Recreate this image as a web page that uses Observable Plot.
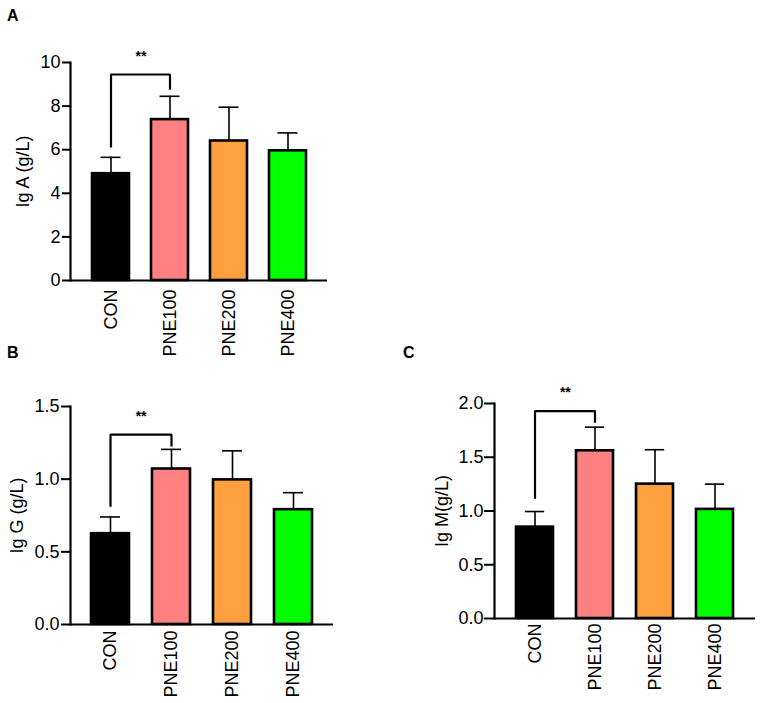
<!DOCTYPE html>
<html>
<head>
<meta charset="utf-8">
<script src="https://cdn.jsdelivr.net/npm/d3@7"></script>
<script src="https://cdn.jsdelivr.net/npm/@observablehq/plot@0.6"></script>
<style>
  body { margin: 0; background: #fff; }
  #wrap { position: relative; width: 765px; height: 703px; overflow: hidden; font-family: "Liberation Sans", Arial, sans-serif; }
  .panel { position: absolute; }
  .letter { position: absolute; font-weight: bold; font-size: 16px; line-height: 1; }
</style>
</head>
<body>
<div id="wrap">
  <div class="letter" style="left:7px;top:8px">A</div>
  <div class="letter" style="left:7px;top:345px">B</div>
  <div class="letter" style="left:403px;top:345px">C</div>
</div>
<script>
// ---- data ----
const categories = ["CON", "PNE100", "PNE200", "PNE400"];
const colors = ["#000000", "#FF8080", "#FFA040", "#00FF00"];

const igaMean = [4.9, 7.38, 6.4, 5.95];
const igaErr  = [0.75, 1.07, 1.55, 0.82];
const iggMean = [0.625, 1.07, 0.995, 0.79];
const iggErr  = [0.115, 0.135, 0.2, 0.117];
const igmMean = [0.85, 1.56, 1.25, 1.015];
const igmErr  = [0.145, 0.22, 0.32, 0.235];

const igaTicks = [0, 2, 4, 6, 8, 10];
const iggTicks = [0, 0.5, 1.0, 1.5];
const igmTicks = [0, 0.5, 1.0, 1.5, 2.0];

// significance bracket: [left leg bottom, top, right leg bottom], star level
const igaBracket = [6.1, 9.45, 8.75], igaStar = 10.27;
const iggBracket = [0.81, 1.307, 1.225], iggStar = 1.43;
const igmBracket = [1.113, 1.93, 1.82], igmStar = 2.1;

const FONT = '"Liberation Sans", Arial, sans-serif';
const FS = 18;

function panel(cfg) {
  const rows = categories.map((c, i) => ({cat: c, mean: cfg.mean[i], top: cfg.mean[i] + cfg.err[i], color: colors[i]}));
  const bracket = [
    {cat: categories[0], y: cfg.bracket[0]},
    {cat: categories[0], y: cfg.bracket[1]},
    {cat: categories[1], y: cfg.bracket[1]},
    {cat: categories[1], y: cfg.bracket[2]}
  ];
  const innerW = cfg.width - cfg.ml - cfg.mr;
  const step = innerW / (4 - 0.38 + 0.68);
  const bw = step * 0.62;
  const capInset = (bw - 20) / 2;
  const svg = Plot.plot({
    width: cfg.width,
    height: cfg.height,
    marginLeft: cfg.ml,
    marginRight: cfg.mr,
    marginTop: cfg.mt,
    marginBottom: cfg.mb,
    style: {fontFamily: FONT, fontSize: FS + "px", color: "#000", background: "transparent", overflow: "visible"},
    x: {domain: categories, paddingInner: 0.38, paddingOuter: 0.34, label: null},
    y: {domain: cfg.domain, label: null},
    marks: [
      Plot.barY(rows, {x: "cat", y: "mean", fill: "color", stroke: "#000", strokeWidth: 2.6}),
      Plot.ruleX(rows, {x: "cat", y1: "mean", y2: "top", stroke: "#000", strokeWidth: 1.6}),
      Plot.tickY(rows, {x: "cat", y: "top", stroke: "#000", strokeWidth: 1.6, insetLeft: capInset, insetRight: capInset}),
      Plot.line(bracket, {x: "cat", y: "y", stroke: "#000", strokeWidth: 2.2, strokeLinejoin: "miter", strokeLinecap: "butt"}),
      Plot.text([{cat: categories[0], y: cfg.star}], {x: "cat", y: "y", text: () => "**", dx: step / 2, fontSize: 14, fontWeight: "bold", lineAnchor: "middle"}),
      Plot.frame({anchor: "left", stroke: "#000", strokeWidth: 2.2}),
      Plot.ruleY([0], {stroke: "#000", strokeWidth: 2.2}),
      Plot.axisY({ticks: cfg.ticks, tickFormat: cfg.fmt, tickSize: cfg.tickSize, tickPadding: cfg.tickPad, strokeWidth: 2, fontSize: FS, label: null}),
      Plot.axisX({tickSize: 0, tickRotate: -90, tickPadding: cfg.xPad, fontSize: FS, label: null}),
      Plot.text([cfg.label], {frameAnchor: "left", text: d => d, rotate: -90, dx: -cfg.labelOff, fontSize: FS, lineAnchor: "middle", textAnchor: "middle"})
    ]
  });
  svg.classList.add("panel");
  svg.style.left = cfg.left + "px";
  svg.style.top = cfg.top + "px";
  document.getElementById("wrap").appendChild(svg);
}

panel({left: 0, top: 0, width: 340, height: 360, ml: 70, mr: 13, mt: 62, mb: 80,
  mean: igaMean, err: igaErr, domain: [0, 10], ticks: igaTicks, fmt: d3.format("d"),
  bracket: igaBracket, star: igaStar, label: "Ig A (g/L)", labelOff: 47, tickSize: 8, tickPad: 2, xPad: 9});

panel({left: 0, top: 360, width: 345, height: 343, ml: 70, mr: 12, mt: 46, mb: 79,
  mean: iggMean, err: iggErr, domain: [0, 1.5], ticks: iggTicks, fmt: d3.format(".1f"),
  bracket: iggBracket, star: iggStar, label: "Ig G (g/L)", labelOff: 53, tickSize: 9, tickPad: 2, xPad: 6});

panel({left: 420, top: 360, width: 337, height: 343, ml: 74, mr: 2, mt: 43, mb: 85,
  mean: igmMean, err: igmErr, domain: [0, 2], ticks: igmTicks, fmt: d3.format(".1f"),
  bracket: igmBracket, star: igmStar, label: "Ig M(g/L)", labelOff: 52, tickSize: 10, tickPad: 1, xPad: 5});
</script>
</body>
</html>
